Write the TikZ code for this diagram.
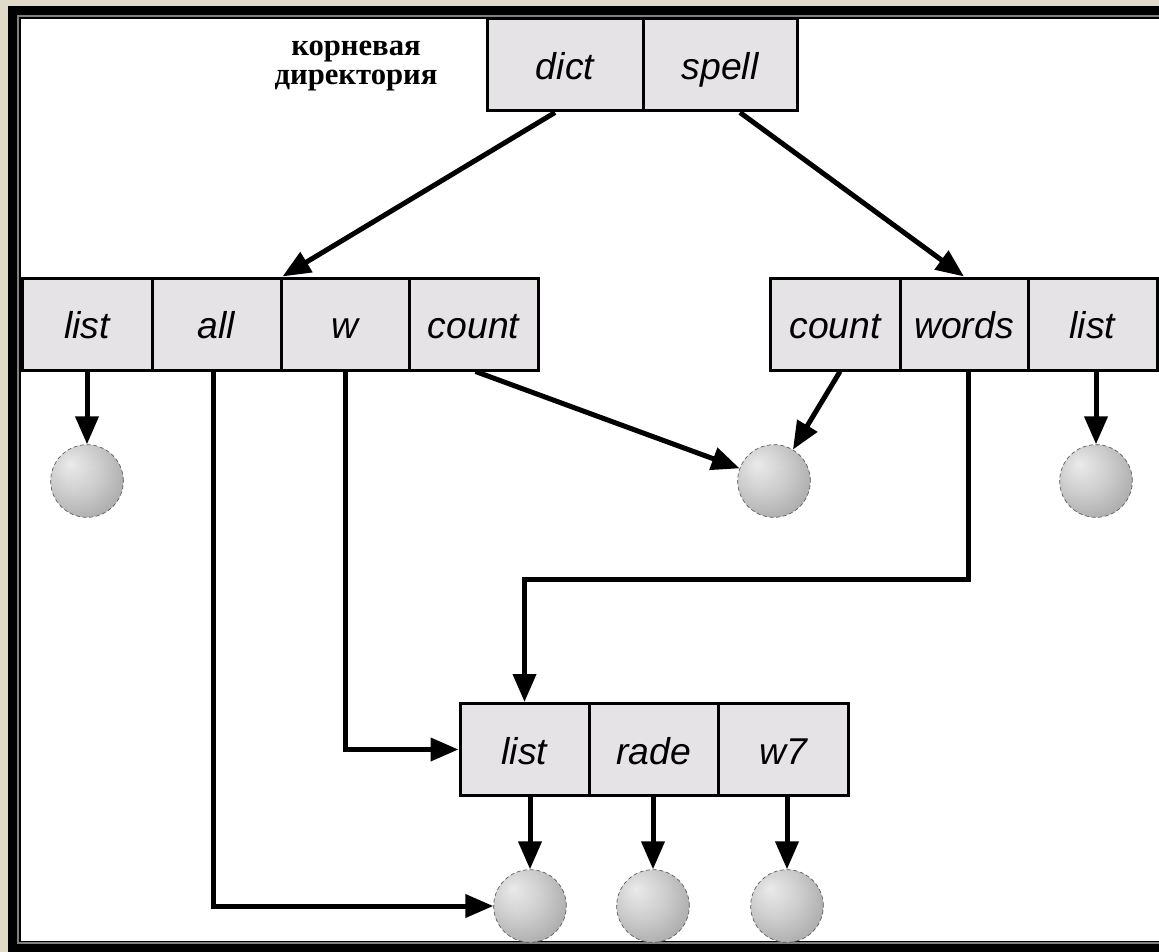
\documentclass[tikz,border=0pt]{standalone}
\usepackage{fontspec}
\setmainfont{Liberation Sans}
\newfontfamily\rusfont{Liberation Serif}
\usetikzlibrary{arrows.meta,calc}
\definecolor{beige}{RGB}{224,219,200}
\definecolor{cellgray}{RGB}{229,227,230}
\pgfdeclareradialshading{sphereshade}{\pgfpoint{-12bp}{12bp}}{color(0bp)=(black!8); color(18bp)=(black!20); color(40bp)=(black!38); color(62bp)=(black!55)}
\tikzset{
 cell/.style={draw=black, line width=2.25pt, fill=cellgray, minimum height=69pt, inner sep=0pt, text height=23pt, text depth=1pt, font=\itshape\fontsize{28}{30}\selectfont},
 ball/.style={circle, minimum size=54.5pt, inner sep=0pt, shading=sphereshade, draw=black!65, densely dashed, line width=0.5pt},
 arr/.style={line width=3.75pt, -{Triangle[length=21pt,width=17pt]}},
}
\begin{document}
\begin{tikzpicture}[x=0.75pt,y=-0.75pt]
\useasboundingbox (0,0) rectangle (1159,952);
\fill[beige] (0,0) rectangle (1159,952);
\fill[black] (8,6) rectangle (1170,952);
\draw[gray, line width=1.2pt] (18,16) rectangle (1180,943);
\fill[white] (21,19) rectangle (1170,941);

% root label
\node[font=\rusfont\bfseries\fontsize{23}{22}\selectfont, align=center] (root) at (356,66) {корневая\\директория};

% root directory
\node[cell, minimum width=117pt] (dict) at (565,65) {dict};
\node[cell, minimum width=115.5pt] (spell) at (720,65) {spell};

% dict directory
\node[cell, minimum width=97.5pt] (llist) at (87,324) {list};
\node[cell, minimum width=96.75pt] (lall) at (216.5,324) {all};
\node[cell, minimum width=96pt] (lw) at (345,324) {w};
\node[cell, minimum width=96.75pt] (lcount) at (473.5,324) {count};

% spell directory
\node[cell, minimum width=97.5pt] (rcount) at (835,324) {count};
\node[cell, minimum width=96pt] (rwords) at (964,324) {words};
\node[cell, minimum width=96.75pt] (rlist) at (1092.5,324) {list};

% words directory
\node[cell, minimum width=96.75pt] (blist) at (524.5,749.5) {list};
\node[cell, minimum width=96.75pt] (brade) at (653.5,749.5) {rade};
\node[cell, minimum width=97.5pt] (bw) at (783,749.5) {w7};

% files
\node[ball] (t1) at (87,481) {};
\node[ball] (t2) at (774,481) {};
\node[ball] (t3) at (1096,481) {};
\node[ball] (b1) at (530,906) {};
\node[ball] (b2) at (653,906) {};
\node[ball] (b3) at (787,906) {};

% connectors
\draw[arr] ($(dict.south)+(-10,0)$) -- (lall.north east);
\draw[arr] ($(spell.south)+(20,0)$) -- (rwords.north);
\draw[arr] (llist.south) -- (t1);
\draw[arr] ($(lall.south)+(-3,0)$) |- (b1);
\draw[arr] (lw.south) |- (blist);
\draw[arr] ($(lcount.south)+(2,0)$) -- (t2);
\draw[arr] ($(rcount.south)+(5,0)$) -- (t2);
\draw[arr] ($(rwords.south)+(4,0)$) -- ++(0,208) -| (blist.north);
\draw[arr] (rlist.south -| t3) -- (t3);
\draw[arr] (blist.south -| b1) -- (b1);
\draw[arr] (brade.south -| b2) -- (b2);
\draw[arr] (bw.south -| b3) -- (b3);
\end{tikzpicture}
\end{document}
